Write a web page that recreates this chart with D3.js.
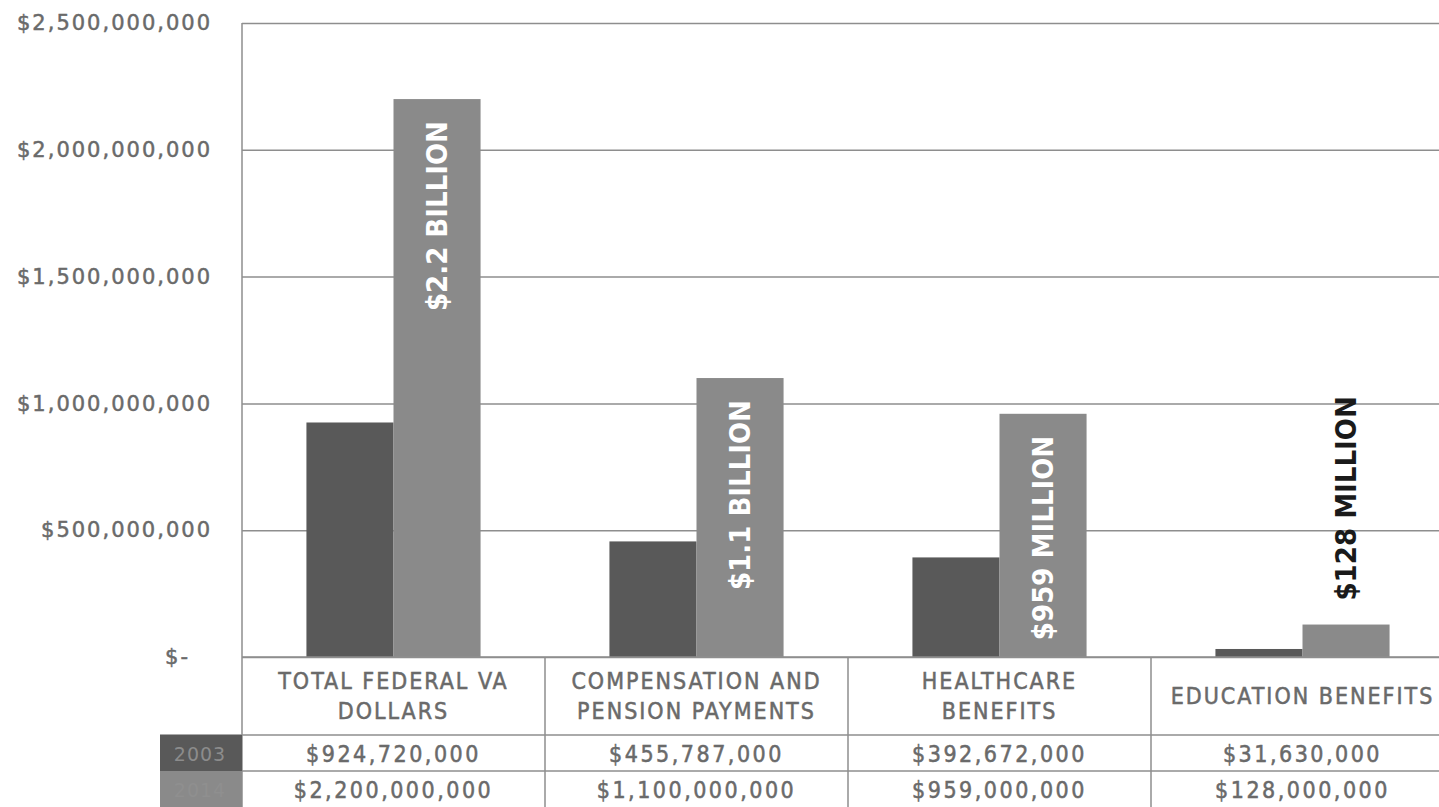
<!DOCTYPE html>
<html>
<head>
<meta charset="utf-8">
<script src="https://cdn.jsdelivr.net/npm/d3@7"></script>
<style>
  html, body { margin: 0; padding: 0; background: #ffffff; }
  svg { display: block; }
</style>
</head>
<body>
<svg id="chart" width="1439" height="807"></svg>
<script>
// VA spending by program, two years compared
const categories = [
  ["TOTAL FEDERAL VA", "DOLLARS"],
  ["COMPENSATION AND", "PENSION PAYMENTS"],
  ["HEALTHCARE", "BENEFITS"],
  ["EDUCATION BENEFITS"]
];
const seriesNames = ["2003", "2014"];
const values2003 = [924720000, 455787000, 392672000, 31630000];
const valuesLater = [2200000000, 1100000000, 959000000, 128000000];
const barLabels = ["$2.2 BILLION", "$1.1 BILLION", "$959 MILLION", "$128 MILLION"];
const yTicks = [0, 500000000, 1000000000, 1500000000, 2000000000, 2500000000];

const W = 1439, H = 807;
// the plot area runs slightly past the right edge of the page
const plot = { left: 242, right: 1454, top: 23, bottom: 657 };
const rowH = 36, headH = 78;
const colors = ["#595959", "#8a8a8a"];
const textGrey = "#6a6a6a";
const lineGrey = "#8e8e8e";

const svg = d3.select("#chart");

const y = d3.scaleLinear().domain([0, 2500000000]).range([plot.bottom, plot.top]);
const x0 = d3.scaleBand().domain(d3.range(categories.length))
  .range([plot.left, plot.right]).paddingInner(0).paddingOuter(0);
const x1 = d3.scaleBand().domain([0, 1]).range([0, x0.bandwidth()]).paddingOuter(0.74).paddingInner(0);

// gridlines
const yAxis = d3.axisLeft(y).tickValues(yTicks)
  .tickSize(-(plot.right - plot.left))
  .tickFormat(d => d === 0 ? "$-" : d3.format("$,")(d));
const gAxis = svg.append("g").attr("transform", `translate(${plot.left},0)`).call(yAxis);
gAxis.select(".domain").remove();
gAxis.selectAll(".tick line").attr("stroke", lineGrey).attr("stroke-width", 1.5);
gAxis.selectAll(".tick text")
  .attr("x", d => d === 0 ? -52 : -30)
  .attr("fill", textGrey)
  .attr("stroke", textGrey)
  .attr("stroke-width", 0.5)
  .style("font-family", "'DejaVu Sans', sans-serif")
  .style("font-size", "21px")
  .style("letter-spacing", "2px");

// vertical axis line down through the table
svg.append("line")
  .attr("x1", plot.left).attr("x2", plot.left)
  .attr("y1", plot.top).attr("y2", H)
  .attr("stroke", lineGrey).attr("stroke-width", 1.5);

// bars
const series = [values2003, valuesLater];
const groups = svg.append("g").selectAll("g").data(categories).join("g")
  .attr("transform", (d, i) => `translate(${x0(i)},0)`);
groups.selectAll("rect").data((d, i) => series.map((s, k) => ({ k, v: s[i] })))
  .join("rect")
  .attr("x", d => x1(d.k))
  .attr("width", x1.bandwidth())
  .attr("y", d => y(d.v))
  .attr("height", d => y(0) - y(d.v))
  .attr("fill", d => colors[d.k]);

// value labels on the later-year bars
const labelFont = "'DejaVu Sans Condensed', 'DejaVu Sans', sans-serif";
barLabels.forEach((lab, i) => {
  const v = valuesLater[i];
  const cx = x0(i) + x1(1) + x1.bandwidth() / 2;
  const inside = i < 3;
  const yy = inside ? y(v) + 22 : y(v) - 24;
  svg.append("text")
    .attr("transform", `translate(${cx},${yy}) rotate(-90)`)
    .attr("text-anchor", inside ? "end" : "start")
    .attr("dominant-baseline", "central")
    .attr("fill", inside ? "#ffffff" : "#1a1a1a")
    .style("font-family", labelFont)
    .style("font-weight", "bold")
    .style("font-size", "29px")
    .text(lab);
});

// data table below the plot
const tableFont = "'DejaVu Sans Condensed', 'DejaVu Sans', sans-serif";
const hLines = [plot.bottom, plot.bottom + headH, plot.bottom + headH + rowH];
hLines.forEach((yy, j) => {
  svg.append("line")
    .attr("x1", j === 0 ? plot.left : 160).attr("x2", W)
    .attr("y1", yy).attr("y2", yy)
    .attr("stroke", lineGrey).attr("stroke-width", 1.5);
});
categories.forEach((c, i) => {
  if (i > 0) {
    svg.append("line")
      .attr("x1", x0(i)).attr("x2", x0(i))
      .attr("y1", plot.bottom).attr("y2", H)
      .attr("stroke", lineGrey).attr("stroke-width", 1.5);
  }
  const cx = x0(i) + x0.bandwidth() / 2;
  const midY = plot.bottom + headH / 2;
  c.forEach((line, li) => {
    svg.append("text")
      .attr("x", cx)
      .attr("y", midY + (li - (c.length - 1) / 2) * 30)
      .attr("text-anchor", "middle")
      .attr("dominant-baseline", "central")
      .attr("fill", textGrey)
      .attr("stroke", textGrey)
      .attr("stroke-width", 0.5)
      .style("font-family", tableFont)
      .style("font-size", "23px")
      .style("letter-spacing", "2px")
      .text(line);
  });
  series.forEach((s, k) => {
    svg.append("text")
      .attr("x", cx)
      .attr("y", plot.bottom + headH + rowH * k + rowH / 2 + 1)
      .attr("text-anchor", "middle")
      .attr("dominant-baseline", "central")
      .attr("fill", textGrey)
      .attr("stroke", textGrey)
      .attr("stroke-width", 0.5)
      .style("font-family", tableFont)
      .style("font-size", "23px")
      .style("letter-spacing", "2.5px")
      .text(d3.format("$,")(s[i]));
  });
});

// legend keys at the row heads
seriesNames.forEach((name, k) => {
  const yy = plot.bottom + headH + rowH * k;
  svg.append("rect")
    .attr("x", 160).attr("y", yy)
    .attr("width", plot.left - 160).attr("height", rowH)
    .attr("fill", colors[k]);
  svg.append("text")
    .attr("x", 200).attr("y", yy + rowH / 2 + 1)
    .attr("text-anchor", "middle")
    .attr("dominant-baseline", "central")
    .attr("fill", k === 0 ? "#8c8c8c" : "#8f8f8f")
    .style("font-family", "'DejaVu Sans', sans-serif")
    .style("font-size", "19px")
    .style("letter-spacing", "1px")
    .text(name);
});
</script>
</body>
</html>
